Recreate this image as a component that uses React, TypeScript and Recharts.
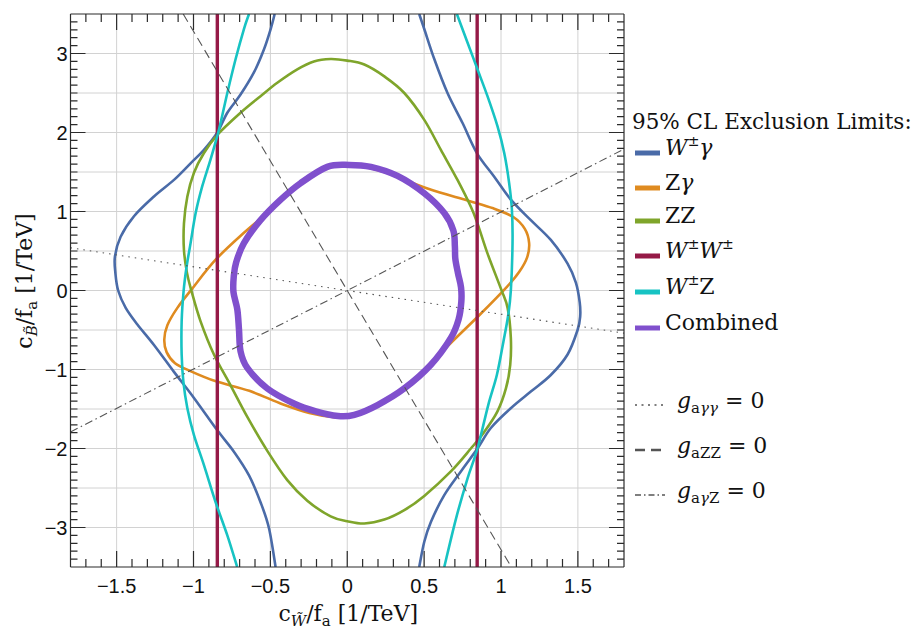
import React from "react";
import { LineChart, Line, XAxis, YAxis, CartesianGrid, Legend, ReferenceLine } from "recharts";

// ---------- data ----------
const wGammaLeft = [
  [-0.472, 3.5], [-0.498, 3.31], [-0.542, 3.05], [-0.607, 2.76], [-0.694, 2.48], [-0.78, 2.25],
  [-0.845, 2.0], [-0.932, 1.78], [-1.019, 1.61], [-1.127, 1.4], [-1.257, 1.19], [-1.387, 0.94],
  [-1.474, 0.68], [-1.511, 0.43], [-1.508, 0.22], [-1.49, 0.0], [-1.441, -0.22], [-1.365, -0.43],
  [-1.257, -0.69], [-1.127, -1.03], [-0.997, -1.36], [-0.845, -1.77], [-0.737, -2.04],
  [-0.639, -2.34], [-0.564, -2.68], [-0.509, -3.01], [-0.466, -3.5],
];
const wGammaRight = [
  [0.468, 3.5], [0.501, 3.31], [0.566, 2.93], [0.652, 2.5], [0.75, 2.12], [0.843, 1.74],
  [0.956, 1.44], [1.064, 1.15], [1.194, 0.89], [1.324, 0.64], [1.433, 0.34], [1.487, 0.1],
  [1.512, -0.15], [1.515, -0.33], [1.498, -0.5], [1.433, -0.81], [1.324, -1.07], [1.194, -1.28],
  [1.064, -1.49], [0.934, -1.74], [0.847, -2.0], [0.739, -2.29], [0.631, -2.59], [0.544, -2.93],
  [0.501, -3.18], [0.468, -3.5],
];
const zGamma = [
  [0.013, 1.6], [0.241, 1.5], [0.522, 1.29], [0.782, 1.14], [0.95, 1.04], [1.08, 0.93],
  [1.155, 0.78], [1.183, 0.6], [1.17, 0.42], [1.12, 0.24], [1.04, 0.05], [0.86, -0.31],
  [0.65, -0.71], [0.479, -1.07], [0.36, -1.27], [0.19, -1.47], [0.02, -1.6], [-0.095, -1.6],
  [-0.247, -1.55], [-0.421, -1.44], [-0.637, -1.27], [-0.854, -1.15], [-1.02, -1.02],
  [-1.12, -0.92], [-1.175, -0.78], [-1.19, -0.62], [-1.17, -0.44], [-1.105, -0.22],
  [-1.01, 0.02], [-0.856, 0.39], [-0.672, 0.73], [-0.498, 1.02], [-0.39, 1.24], [-0.29, 1.39],
  [-0.14, 1.56],
];
const zz = [
  [-0.108, 2.93], [0.0, 2.91], [0.111, 2.86], [0.241, 2.71], [0.371, 2.5], [0.501, 2.16],
  [0.609, 1.78], [0.717, 1.4], [0.804, 1.06], [0.847, 0.85], [0.912, 0.47], [1.0, 0.02],
  [1.043, -0.22], [1.064, -0.6], [1.06, -0.94], [1.032, -1.24], [0.977, -1.53], [0.891, -1.79],
  [0.804, -2.0], [0.674, -2.29], [0.501, -2.6], [0.371, -2.78], [0.241, -2.9], [0.111, -2.95],
  [0.0, -2.92], [-0.108, -2.86], [-0.26, -2.66], [-0.39, -2.4], [-0.52, -2.03], [-0.65, -1.6],
  [-0.759, -1.2], [-0.867, -0.81], [-0.954, -0.39], [-1.014, 0.0], [-1.042, 0.22],
  [-1.062, 0.51], [-1.062, 0.85], [-1.04, 1.19], [-0.997, 1.49], [-0.932, 1.74], [-0.845, 1.97],
  [-0.694, 2.25], [-0.564, 2.46], [-0.455, 2.63], [-0.325, 2.8], [-0.217, 2.9],
];
const wwLeft = [[-0.845, -3.5], [-0.845, 3.5]];
const wwRight = [[0.845, -3.5], [0.845, 3.5]];
const wzLeft = [
  [-0.639, 3.5], [-0.672, 3.31], [-0.726, 2.93], [-0.78, 2.5], [-0.834, 2.04], [-0.889, 1.66],
  [-0.943, 1.32], [-0.986, 0.98], [-1.019, 0.6], [-1.045, 0.3], [-1.064, 0.0], [-1.077, -0.39],
  [-1.077, -0.81], [-1.066, -1.15], [-1.04, -1.49], [-0.997, -1.83], [-0.932, -2.21],
  [-0.856, -2.68], [-0.78, -3.1], [-0.716, -3.5],
];
const wzRight = [
  [0.713, 3.5], [0.782, 3.14], [0.847, 2.8], [0.912, 2.46], [0.977, 2.08], [1.021, 1.74],
  [1.053, 1.36], [1.071, 1.02], [1.075, 0.6], [1.064, 0.0], [1.047, -0.31], [1.016, -0.645],
  [0.973, -1.07], [0.917, -1.45], [0.847, -2.0], [0.782, -2.38], [0.707, -2.89], [0.631, -3.5],
];
const combined = [
  [0.013, 1.59], [0.154, 1.565], [0.327, 1.45], [0.501, 1.23], [0.631, 0.98], [0.69, 0.76],
  [0.7, 0.56], [0.703, 0.4], [0.72, 0.22], [0.74, 0.04], [0.742, -0.14], [0.725, -0.36],
  [0.674, -0.6], [0.544, -0.94], [0.371, -1.24], [0.197, -1.45], [0.046, -1.575], [-0.06, -1.59],
  [-0.204, -1.53], [-0.347, -1.43], [-0.52, -1.24], [-0.65, -0.98], [-0.694, -0.77],
  [-0.704, -0.5], [-0.715, -0.24], [-0.74, -0.02], [-0.738, 0.18], [-0.722, 0.36],
  [-0.672, 0.6], [-0.564, 0.89], [-0.433, 1.15], [-0.303, 1.36], [-0.13, 1.565],
];
const gAyy = [[-1.8, 0.54], [1.8, -0.54]];
const gAZZ = [[-1.067, 3.5], [1.067, -3.5]];
const gAyZ = [[-1.8, -1.79], [1.8, 1.79]];

const xTickLabels = [-1.5, -1, -0.5, 0, 0.5, 1, 1.5];
const yTickLabels = [-3, -2, -1, 0, 1, 2, 3];
const xGrid = [-1.5, -1, -0.5, 0, 0.5, 1, 1.5];
const yGrid = [-3, -2.5, -2, -1.5, -1, -0.5, 0, 0.5, 1, 1.5, 2, 2.5, 3];
const xDomain = [-1.8, 1.8];
const yDomain = [-3.5, 3.5];

const seriesNames = ["W±γ", "Zγ", "ZZ", "W±W±", "W±Z", "Combined"];
const refNames = ["gaγγ = 0", "gaZZ = 0", "gaγZ = 0"];

// ---------- styling ----------
const COL = {
  wg: "#4a6ba8",
  zg: "#df8b20",
  zz: "#7fa52b",
  ww: "#951a47",
  wz: "#17c3c3",
  comb: "#8050cd",
  ref: "#555555",
};
const SERIF = "'DejaVu Serif', serif";
const SANS = "'Liberation Sans', Arial, sans-serif";
const AXIS = "#2b2b2b";

const toPts = (a: number[][]) => a.map(([x, y]) => ({ x, y }));

// minor tick positions every 0.1 (frame ticks)
const xMinor: number[] = [];
for (let i = -17; i <= 17; i++) xMinor.push(i / 10);
const yMinor: number[] = [];
for (let i = -34; i <= 34; i++) yMinor.push(i / 10);

const near = (v: number, list: number[]) => list.some((t) => Math.abs(t - v) < 1e-6);
const fmt = (v: number) => (v < 0 ? "\u2212" + String(Math.abs(v)) : String(v));

// Catmull-Rom curve factory (open / closed)
function catmull(closed: boolean) {
  return function (context: any) {
    let pts: number[][] = [];
    return {
      areaStart() {},
      areaEnd() {},
      lineStart() {
        pts = [];
      },
      point(x: number, y: number) {
        pts.push([+x, +y]);
      },
      lineEnd() {
        const n = pts.length;
        if (!n) return;
        context.moveTo(pts[0][0], pts[0][1]);
        const get = (i: number) =>
          closed ? pts[((i % n) + n) % n] : pts[Math.max(0, Math.min(n - 1, i))];
        const segs = closed ? n : n - 1;
        for (let i = 0; i < segs; i++) {
          const p0 = get(i - 1), p1 = get(i), p2 = get(i + 1), p3 = get(i + 2);
          context.bezierCurveTo(
            p1[0] + (p2[0] - p0[0]) / 6,
            p1[1] + (p2[1] - p0[1]) / 6,
            p2[0] - (p3[0] - p1[0]) / 6,
            p2[1] - (p3[1] - p1[1]) / 6,
            p2[0],
            p2[1]
          );
        }
        if (closed) context.closePath();
      },
    };
  };
}
const openCurve: any = catmull(false);
const closedCurve: any = catmull(true);

// ---------- frame tick marks (drawn at both ends of a reference line) ----------
const xTickShape = (len: number) => (p: any) => {
  const x = p.x1;
  const top = Math.min(p.y1, p.y2);
  const bot = Math.max(p.y1, p.y2);
  return (
    <path
      d={`M${x},${bot}L${x},${bot - len}M${x},${top}L${x},${top + len}`}
      stroke={AXIS}
      strokeWidth={1.2}
      fill="none"
    />
  );
};
const yTickShape = (len: number) => (p: any) => {
  const y = p.y1;
  const l = Math.min(p.x1, p.x2);
  const r = Math.max(p.x1, p.x2);
  return (
    <path
      d={`M${l},${y}L${l + len},${y}M${r},${y}L${r - len},${y}`}
      stroke={AXIS}
      strokeWidth={1.2}
      fill="none"
    />
  );
};

// ---------- tick labels ----------
const BottomTick = (p: any) => {
  const { x, y, payload } = p;
  return (
    <text x={x} y={y + 26} textAnchor="middle" fontFamily={SANS} fontSize={20} fill="#111">
      {fmt(payload.value)}
    </text>
  );
};
const LeftTick = (p: any) => {
  const { x, y, payload } = p;
  return (
    <text x={x - 3} y={y} dy="0.36em" textAnchor="end" fontFamily={SANS} fontSize={20} fill="#111">
      {fmt(payload.value)}
    </text>
  );
};

// ---------- axis labels ----------
const XLabel = (p: any) => {
  const vb = p.viewBox || { x: 0, width: 0, y: 0 };
  const cx = vb.x + vb.width / 2 + 1;
  const by = vb.y + 54;
  return (
    <text x={cx} y={by} textAnchor="middle" fontFamily={SERIF} fontSize={22} fill="#111">
      c
      <tspan dy={5} fontSize={15} fontStyle="italic">{"W\u0303"}</tspan>
      <tspan dy={-5}>/f</tspan>
      <tspan dy={5} fontSize={15}>a</tspan>
      <tspan dy={-5}>{" [1/TeV]"}</tspan>
    </text>
  );
};
const YLabel = () => {
  const cx = 32;
  const cy = 281;
  return (
    <text
      x={cx}
      y={cy}
      transform={`rotate(-90, ${cx}, ${cy})`}
      textAnchor="middle"
      fontFamily={SERIF}
      fontSize={22}
      fill="#111"
    >
      c
      <tspan dy={5} fontSize={15} fontStyle="italic">{"B\u0303"}</tspan>
      <tspan dy={-5}>/f</tspan>
      <tspan dy={5} fontSize={15}>a</tspan>
      <tspan dy={-5}>{" [1/TeV]"}</tspan>
    </text>
  );
};

// ---------- legend ----------
const seriesColors = [COL.wg, COL.zg, COL.zz, COL.ww, COL.wz, COL.comb];
const refDashes = ["1.5 5", "9 5", "8 3.5 1.5 3.5"];

function seriesLabel(i: number) {
  const n = seriesNames[i];
  const it = (s: string) => <tspan fontStyle="italic">{s}</tspan>;
  const sup = (s: string, down: string | null) => (
    <>
      <tspan dy={-9} fontSize={14}>{s}</tspan>
      {down !== null && (
        <tspan dy={9} fontStyle={down === "Z" ? "normal" : "italic"}>{down}</tspan>
      )}
    </>
  );
  switch (n) {
    case "W±γ":
      return <>{it("W")}{sup("±", "γ")}</>;
    case "Zγ":
      return <>Z{it("γ")}</>;
    case "W±W±":
      return <>{it("W")}{sup("±", "W")}<tspan dy={-9} fontSize={14}>±</tspan></>;
    case "W±Z":
      return <>{it("W")}{sup("±", "Z")}</>;
    default:
      return <>{n}</>;
  }
}
function refLabel(i: number) {
  const n = refNames[i]; // "ga.. = 0"
  const sub = n.slice(1, n.indexOf(" "));
  const rest = n.slice(n.indexOf(" "));
  return (
    <>
      <tspan fontStyle="italic">g</tspan>
      <tspan dy={5} fontSize={15}>{sub[0]}</tspan>
      {sub
        .slice(1)
        .split("")
        .map((c, k) => (
          <tspan key={k} fontSize={15} fontStyle={c === "γ" ? "italic" : "normal"}>
            {c}
          </tspan>
        ))}
      <tspan dy={-5}>{rest}</tspan>
    </>
  );
}

const LegendBox = () => {
  const ox = 625, oy = 100;
  const sY = [153, 188, 221, 256, 292, 328];
  const rY = [405, 450, 495];
  return (
    <svg width={290} height={420} style={{ overflow: "visible", display: "block" }}>
      <g transform={`translate(${-ox}, ${-oy})`}>
        <text x={632} y={129} fontFamily={SERIF} fontSize={21.5} fill="#111">
          95% CL Exclusion Limits:
        </text>
        {seriesNames.map((_, i) => (
          <g key={i}>
            <line x1={635} x2={660} y1={sY[i]} y2={sY[i]} stroke={seriesColors[i]} strokeWidth={5} />
            <text x={665} y={sY[i] + 2} fontFamily={SERIF} fontSize={22} fill="#111">
              {seriesLabel(i)}
            </text>
          </g>
        ))}
        {refNames.map((_, i) => (
          <g key={"r" + i}>
            <line
              x1={635}
              x2={665}
              y1={rY[i]}
              y2={rY[i]}
              stroke={COL.ref}
              strokeWidth={i === 1 ? 2.5 : 1.5}
              strokeDasharray={i === 0 ? "2 4.5" : i === 1 ? "10 6" : "6 3 1.5 3"}
            />
            <text x={677} y={rY[i] + 3} fontFamily={SERIF} fontSize={22} fill="#111">
              {refLabel(i)}
            </text>
          </g>
        ))}
      </g>
    </svg>
  );
};

export default function App() {
  const common = {
    dot: false,
    activeDot: false,
    isAnimationActive: false,
    dataKey: "y",
    legendType: "none" as const,
  };
  return (
    <div style={{ position: "absolute", left: 0, top: 0, width: 915, height: 630, background: "#fff" }}>
      <LineChart width={915} height={630} margin={{ top: 14, right: 291, bottom: 0, left: 0 }}>
        <CartesianGrid
          stroke="#d2d2d2"
          strokeWidth={1}
          verticalValues={xGrid}
          horizontalValues={yGrid}
        />
        <XAxis
          dataKey="x"
          type="number"
          domain={xDomain}
          allowDataOverflow
          ticks={xTickLabels}
          interval={0}
          height={63}
          tickSize={0}
          tickMargin={0}
          tickLine={false}
          axisLine={false}
          tick={<BottomTick />}
          label={<XLabel />}
        />
        <YAxis
          type="number"
          domain={yDomain}
          allowDataOverflow
          ticks={yTickLabels}
          interval={0}
          width={70.5}
          tickSize={0}
          tickMargin={0}
          tickLine={false}
          axisLine={false}
          tick={<LeftTick />}
          label={<YLabel />}
        />
        <Legend
          layout="vertical"
          align="center"
          verticalAlign="middle"
          wrapperStyle={{ left: 625, top: 100, width: 290, height: 420 }}
          content={<LegendBox />}
        />

        {xMinor.map((v) => (
          <ReferenceLine
            key={"tx" + v}
            x={v}
            stroke={AXIS}
            shape={xTickShape(near(v, xTickLabels) ? 16 : 8)}
          />
        ))}
        {yMinor.map((v) => (
          <ReferenceLine
            key={"ty" + v}
            y={v}
            stroke={AXIS}
            shape={yTickShape(near(v, yTickLabels) ? 15 : 7)}
          />
        ))}

        <Line {...common} name="W±γ a" data={toPts(wGammaLeft)} type={openCurve} stroke={COL.wg} strokeWidth={2.6} />
        <Line {...common} name="W±γ b" data={toPts(wGammaRight)} type={openCurve} stroke={COL.wg} strokeWidth={2.6} />
        <Line {...common} name="Zγ" data={toPts(zGamma)} type={closedCurve} stroke={COL.zg} strokeWidth={2.6} />
        <Line {...common} name="ZZ" data={toPts(zz)} type={closedCurve} stroke={COL.zz} strokeWidth={2.6} />
        <Line {...common} name="W±W± a" data={toPts(wwLeft)} type="linear" stroke={COL.ww} strokeWidth={3.4} />
        <Line {...common} name="W±W± b" data={toPts(wwRight)} type="linear" stroke={COL.ww} strokeWidth={3.4} />
        <Line {...common} name="W±Z a" data={toPts(wzLeft)} type={openCurve} stroke={COL.wz} strokeWidth={2.6} />
        <Line {...common} name="W±Z b" data={toPts(wzRight)} type={openCurve} stroke={COL.wz} strokeWidth={2.6} />
        <Line {...common} name="Combined" data={toPts(combined)} type={closedCurve} stroke={COL.comb} strokeWidth={6.5} />

        <Line {...common} name="gayy" data={toPts(gAyy)} type="linear" stroke={COL.ref} strokeWidth={1.1} strokeDasharray={refDashes[0]} />
        <Line {...common} name="gaZZ" data={toPts(gAZZ)} type="linear" stroke={COL.ref} strokeWidth={1.1} strokeDasharray={refDashes[1]} />
        <Line {...common} name="gayZ" data={toPts(gAyZ)} type="linear" stroke={COL.ref} strokeWidth={1.1} strokeDasharray={refDashes[2]} />

        <ReferenceLine x={xDomain[0]} stroke={AXIS} strokeWidth={1.2} />
        <ReferenceLine x={xDomain[1]} stroke={AXIS} strokeWidth={1.2} />
        <ReferenceLine y={yDomain[0]} stroke={AXIS} strokeWidth={1.2} />
        <ReferenceLine y={yDomain[1]} stroke={AXIS} strokeWidth={1.2} />
      </LineChart>
    </div>
  );
}
